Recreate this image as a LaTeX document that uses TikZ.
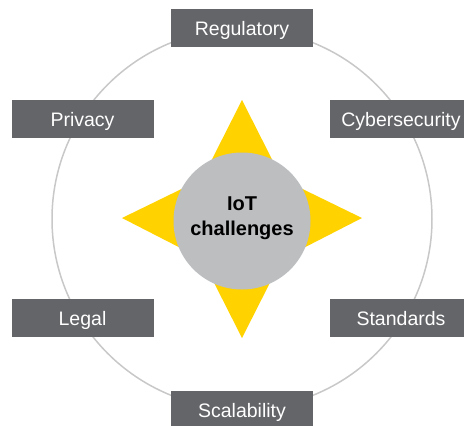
\documentclass[tikz,border=0pt]{standalone}
\usepackage{fontspec}
\setmainfont{Liberation Sans}
\definecolor{boxgray}{HTML}{646569}
\definecolor{ringgray}{HTML}{C8C8C8}
\definecolor{circgray}{HTML}{BCBEC0}
\definecolor{staryellow}{HTML}{FFD200}
\begin{document}
\begin{tikzpicture}[x=1pt,y=-1pt,
  box/.style={fill=boxgray, draw=none, minimum width=142pt, minimum height=38pt,
    inner sep=0pt, text=white, font=\fontsize{19.5}{20}\selectfont,
    text height=14pt, text depth=0pt},
  ring/.style={draw=ringgray, line width=1.5pt},
  hub/.style={circle, fill=circgray, minimum size=137pt, inner sep=0pt},
  hublabel/.style={align=center, font=\bfseries\fontsize{20}{25}\selectfont, text=black, inner sep=0pt}]
\useasboundingbox (0,0) rectangle (464,426);
\clip (0,0) rectangle (464,426);
\draw[ring] (242,219) circle (190pt);
\fill[staryellow] (242,100) -- (282,179) -- (362,218) -- (282,259) -- (242,338)
  -- (202,259) -- (122,218) -- (202,179) -- cycle;
\node[hub] (hub) at (242,221) {};
\node[hublabel] (lbl) at (242,218.5) {IoT\\challenges};
\node[box] (reg) at (242,28) {Regulatory};
\node[box] (priv) at (82.5,119) {Privacy};
\node[box] (cyber) at (401,119) {Cybersecurity};
\node[box] (legal) at (82.5,318) {Legal};
\node[box] (std) at (401,318) {Standards};
\node[box] (scal) at (242,410) {Scalability};
\end{tikzpicture}
\end{document}
